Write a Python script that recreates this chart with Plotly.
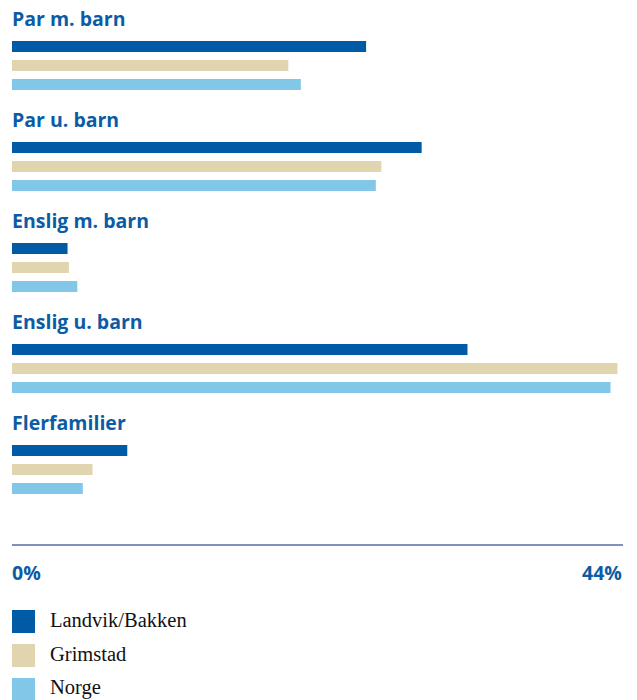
import plotly.graph_objects as go

categories = ["Par m. barn", "Par u. barn", "Enslig m. barn", "Enslig u. barn", "Flerfamilier"]
series_names = ["Landvik/Bakken", "Grimstad", "Norge"]
landvik = [25.5, 29.5, 4.0, 32.8, 8.3]
grimstad = [19.9, 26.6, 4.1, 43.6, 5.8]
norge = [20.8, 26.2, 4.7, 43.1, 5.1]
tick_labels = ["0%", "44%"]
x_max = 44

colors = ["#005AA5", "#E1D5B0", "#82C6E8"]
label_color = "#0B5CA4"
series_values = [landvik, grimstad, norge]

W, H = 637, 700
plot_h = 544  # plot area height in px (top margin 0)
group_pitch = 101
bar_pitch = 19
first_bar = 46.5

fig = go.Figure()
for s, (name, vals, col) in enumerate(zip(series_names, series_values, colors)):
    ys = [first_bar + group_pitch * g + bar_pitch * s for g in range(len(categories))]
    fig.add_trace(go.Bar(
        x=vals, y=ys, orientation="h", name=name,
        marker=dict(color=col, line=dict(width=0)),
        width=11, showlegend=False, hoverinfo="x+name",
    ))

annotations = []
for g, cat in enumerate(categories):
    annotations.append(dict(
        x=0, y=first_bar + group_pitch * g - 28, xref="x", yref="y",
        text=f"<b>{cat}</b>", showarrow=False, xanchor="left", yanchor="middle",
        font=dict(family="Open Sans", size=19.5, color=label_color), xshift=-2,
    ))

# tick labels
annotations.append(dict(x=0, y=-0.052, xref="paper", yref="paper", yanchor="middle",
                        text=f"<b>{tick_labels[0]}</b>", showarrow=False, xanchor="left",
                        xshift=-2,
                        font=dict(family="Open Sans", size=19.5, color=label_color)))
annotations.append(dict(x=1, y=-0.052, xref="paper", yref="paper", yanchor="middle",
                        text=f"<b>{tick_labels[1]}</b>", showarrow=False, xanchor="right",
                        xshift=1,
                        font=dict(family="Open Sans", size=19.5, color=label_color)))

# manual legend
shapes = []
leg_top = 610
leg_pitch = 34
sq = 23
for i, (name, col) in enumerate(zip(series_names, colors)):
    y0 = leg_top + leg_pitch * i
    shapes.append(dict(type="rect", xref="paper", yref="paper",
                       x0=0, x1=sq / (W - 12 - 14),
                       y0=(plot_h - y0) / plot_h, y1=(plot_h - (y0 + sq)) / plot_h,
                       fillcolor=col, line=dict(width=0)))
    annotations.append(dict(x=36 / (W - 26), y=(plot_h - (y0 + sq / 2)) / plot_h,
                            xref="paper", yref="paper", text=name, showarrow=False,
                            xanchor="left", yanchor="middle", yshift=2,
                            font=dict(family="Liberation Serif", size=20.5, color="#111111")))

fig.update_layout(
    width=W, height=H,
    margin=dict(l=12, r=14, t=0, b=H - plot_h),
    plot_bgcolor="white", paper_bgcolor="white",
    barmode="overlay",
    xaxis=dict(range=[0, x_max], showgrid=False, zeroline=False, showticklabels=False,
               showline=True, linecolor="#7D91B9", linewidth=2, ticks="", fixedrange=True),
    yaxis=dict(range=[plot_h, 0], showgrid=False, zeroline=False, showticklabels=False,
               showline=False, ticks="", fixedrange=True),
    annotations=annotations,
    shapes=shapes,
    showlegend=False,
)

fig.write_html("out.html")
